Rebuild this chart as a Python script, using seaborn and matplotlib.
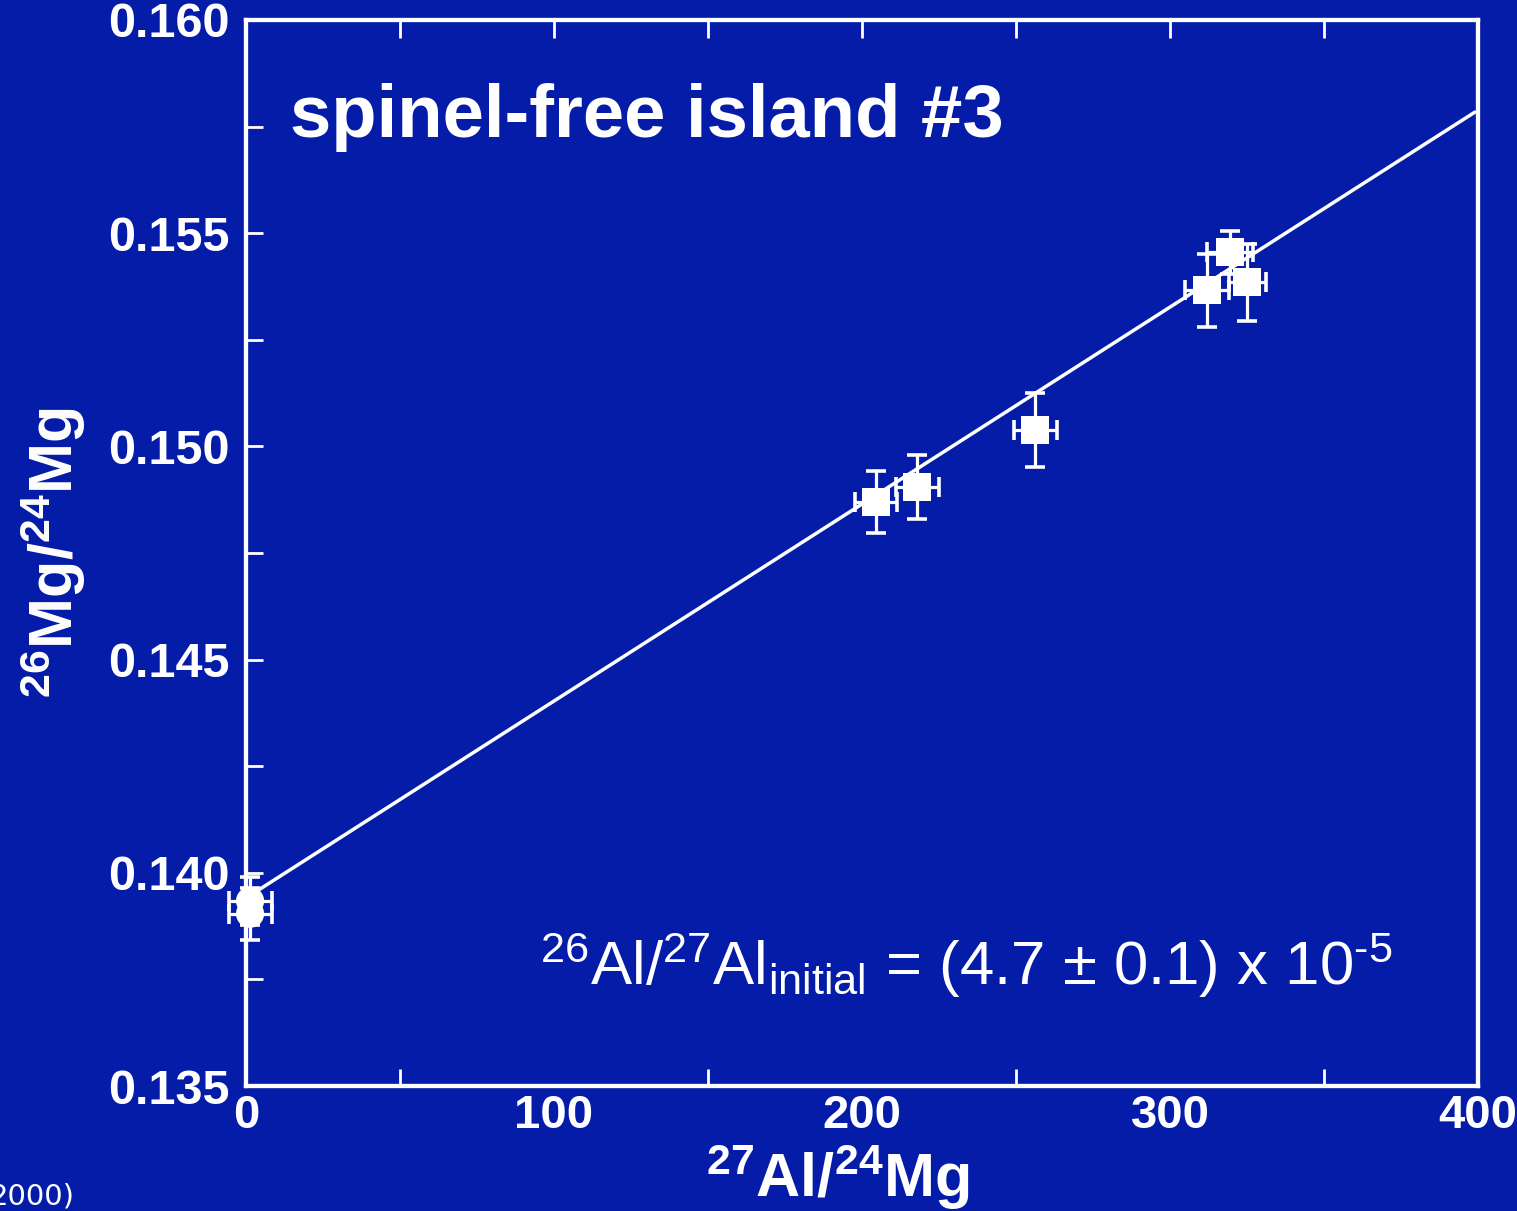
import matplotlib
matplotlib.use('Agg')
import matplotlib.pyplot as plt
import seaborn as sns
import pandas as pd

# data
al_mg = [204.5, 217.9, 256.2, 312.0, 319.5, 325.0, 1.3, 1.3]
mg_mg = [0.14869, 0.14904, 0.15038, 0.15366, 0.15455, 0.15385, 0.13934, 0.13904]
al_err = [6.8, 7.0, 7.0, 7.0, 7.5, 6.0, 7.0, 7.0]
mg_err = [0.00073, 0.00075, 0.00087, 0.00085, 0.00050, 0.00090, 0.00056, 0.00061]
phase = ['island', 'island', 'island', 'island', 'island', 'island', 'spinel', 'spinel']

fit_x = [0, 399]
fit_y = [0.13941, 0.15784]

xticks = [0, 100, 200, 300, 400]
xlabels = ['0', '100', '200', '300', '400']
yticks = [0.135, 0.140, 0.145, 0.150, 0.155, 0.160]
ylabels = ['0.135', '0.140', '0.145', '0.150', '0.155', '0.160']

bg = '#041ca8'

sns.set_style('white')
plt.rcParams['font.family'] = ['Liberation Sans', 'DejaVu Sans']
plt.rcParams['mathtext.fontset'] = 'custom'
plt.rcParams['mathtext.rm'] = 'Liberation Sans'
plt.rcParams['mathtext.bf'] = 'Liberation Sans:bold'
plt.rcParams['mathtext.it'] = 'Liberation Sans:italic'

df = pd.DataFrame({'al': al_mg, 'mg': mg_mg, 'xe': al_err, 'ye': mg_err, 'phase': phase})

fig = plt.figure(figsize=(15.17, 12.11), dpi=100, facecolor=bg)
ax = fig.add_axes([0.1622, 0.1032, 0.8121, 0.8803])
ax.set_facecolor(bg)

sns.lineplot(x=fit_x, y=fit_y, ax=ax, color='white', lw=2.5)
ax.errorbar(df['al'], df['mg'], xerr=df['xe'], yerr=df['ye'], fmt='none',
            ecolor='white', elinewidth=2.3, capsize=7.5, capthick=2.6, clip_on=False, zorder=3)
sns.scatterplot(data=df, x='al', y='mg', style='phase', markers={'island': 's', 'spinel': 'o'},
                s=410, color='white', edgecolor='none', ax=ax, legend=False, clip_on=False, zorder=4)

ax.set_xlim(0, 400)
ax.set_ylim(0.135, 0.160)
ax.set_xticks(xticks)
ax.set_xticklabels(xlabels)
ax.set_xticks([50, 150, 250, 350], minor=True)
ax.set_yticks(yticks)
ax.set_yticklabels(ylabels)
ax.set_yticks([0.1375, 0.1425, 0.1475, 0.1525, 0.1575], minor=True)

ax.tick_params(axis='y', which='both', direction='in', length=12, width=2, color='white',
               left=True, right=False, labelsize=35, labelcolor='white', pad=12)
ax.tick_params(axis='x', which='major', length=0, labelsize=34, labelcolor='white', pad=6)
ax.tick_params(axis='x', which='minor', direction='in', length=12, width=2, color='white',
               bottom=True, top=False)
for lab in ax.get_xticklabels() + ax.get_yticklabels():
    lab.set_fontweight('bold')

top = ax.twiny()
top.set_xlim(0, 400)
top.set_xticks([0, 50, 100, 150, 200, 250, 300, 350, 400])
top.tick_params(axis='x', direction='in', length=13, width=2, color='white', labeltop=False)
for a in (ax, top):
    for sp in a.spines.values():
        sp.set_color('white')
        sp.set_linewidth(3)

ax.set_xlabel(r'$^{\mathbf{27}}\mathbf{Al/}^{\mathbf{24}}\mathbf{Mg}$', fontsize=44, color='white')
ax.xaxis.set_label_coords(0.48, -0.053)
ax.set_ylabel(r'$^{\mathbf{26}}\mathbf{Mg/}^{\mathbf{24}}\mathbf{Mg}$', fontsize=44, color='white')
ax.yaxis.set_label_coords(-0.128, 0.5)

ax.text(0.036, 0.890, 'spinel-free island #3', transform=ax.transAxes, fontsize=53.5,
        fontweight='bold', color='white', ha='left', va='baseline')
ax.text(0.239, 0.0947,
        r'$^{\mathrm{26}}\mathrm{Al/}^{\mathrm{27}}\mathrm{Al}_{\mathrm{initial}}$ = (4.7 ± 0.1) x 10$^{\text{-5}}$',
        transform=ax.transAxes, fontsize=44.5, color='white', ha='left', va='baseline')

fig.text(75 / 1517, 1 - 1205 / 1211, '2000)', family='DejaVu Sans', fontsize=21,
         color='white', ha='right', va='baseline')

fig.savefig('out.png', dpi=100, facecolor=bg)
